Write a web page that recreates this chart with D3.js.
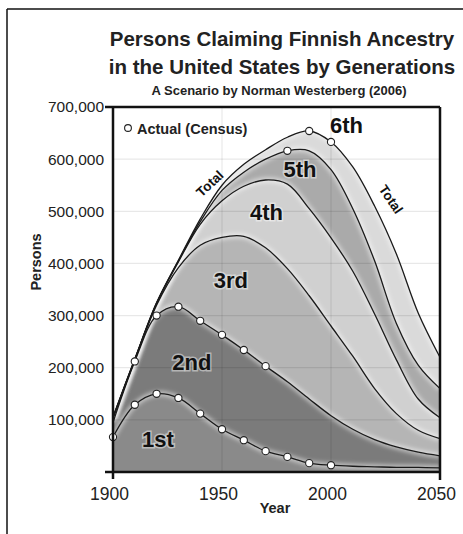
<!DOCTYPE html>
<html>
<head>
<meta charset="utf-8">
<script src="https://cdn.jsdelivr.net/npm/d3@7"></script>
<style>
  body { margin: 0; background: #fff; }
  text { font-family: "Liberation Sans", Arial, sans-serif; }
</style>
</head>
<body>
<svg id="chart" width="463" height="534"></svg>
<script>
// years sampled every decade
const years = [1900,1910,1920,1930,1940,1950,1960,1970,1980,1990,2000,2010,2020,2030,2040,2050];
// persons per generation (thousands)
const gen1 = [67,129,150,142,112,82,61,40,29,17,13,11,10,9,9,8];
const gen2 = [28,83,150,175,178,181,173,163,144,123,95,71,52,39,29,23];
const gen3 = [8,3,20,75,145,187,218,227,217,198,172,140,98,64,42,33];
const gen4 = [1,1,3,11,40,70,96,130,162,167,169,163,143,103,60,40];
const gen5 = [1,0,1,2,5,20,27,40,64,111,131,120,102,70,65,56];
const gen6 = [1,1,1,1,5,10,15,18,26,38,53,80,105,133,100,60];
const genNames = ["1st","2nd","3rd","4th","5th","6th"];
const genFill = ["#8a8a8a","#7b7b7b","#b5b5b5","#d0d0d0","#aaaaaa","#dadada"];

// census points (thousands)
const censusFirst = [[1900,67],[1910,129],[1920,150],[1930,142],[1940,112],[1950,82],[1960,61],[1970,40],[1980,29],[1990,17],[2000,13]];
const censusStock = [[1910,212],[1920,300],[1930,317],[1940,290],[1950,263],[1960,234],[1970,203]];
const censusAncestry = [[1980,616],[1990,654],[2000,633]];

const yTicks = [100000,200000,300000,400000,500000,600000,700000];
const xTicks = [1900,1950,2000,2050];

// label anchors in data space
const genLabels = [
  {t:"1st", year:1920.6, v:48}, {t:"2nd", year:1936.2, v:196}, {t:"3rd", year:1954.1, v:353},
  {t:"4th", year:1970.4, v:483}, {t:"5th", year:1985.8, v:566}, {t:"6th", year:2007.1, v:650}
];

const svg = d3.select("#chart");
const plot = {left: 113, right: 440, top: 107, bottom: 472};

const x = d3.scaleLinear().domain([1900, 2050]).range([plot.left, plot.right]);
const y = d3.scaleLinear().domain([0, 700000]).range([plot.bottom, plot.top]);

// outer frame
svg.append("line").attr("x1", 7).attr("x2", 7).attr("y1", 9).attr("y2", 534).attr("stroke", "#111").attr("stroke-width", 1.5);
svg.append("line").attr("x1", 7).attr("x2", 463).attr("y1", 9).attr("y2", 9).attr("stroke", "#111").attr("stroke-width", 1.5);

// titles
svg.append("text").attr("x", 282).attr("y", 46).attr("text-anchor", "middle")
  .attr("font-size", 20.5).attr("font-weight", "bold").attr("fill", "#222").text("Persons Claiming Finnish Ancestry");
svg.append("text").attr("x", 282).attr("y", 74).attr("text-anchor", "middle")
  .attr("font-size", 20.5).attr("font-weight", "bold").attr("fill", "#222").text("in the United States by Generations");
svg.append("text").attr("x", 279).attr("y", 95).attr("text-anchor", "middle")
  .attr("font-size", 13).attr("font-weight", "bold").attr("fill", "#222").text("A Scenario by Norman Westerberg (2006)");

// stacked data
const table = years.map((yr, i) => ({
  year: yr, g0: gen1[i]*1000, g1: gen2[i]*1000, g2: gen3[i]*1000,
  g3: gen4[i]*1000, g4: gen5[i]*1000, g5: gen6[i]*1000
}));
const keys = ["g0","g1","g2","g3","g4","g5"];
const series = d3.stack().keys(keys)(table);

const curve = d3.curveCatmullRom.alpha(0.5);
const area = d3.area().curve(curve)
  .x(d => x(d.data.year)).y0(d => y(d[0])).y1(d => y(d[1]));
const line = d3.line().curve(curve)
  .x(d => x(d.data.year)).y(d => y(d[1]));

const defs = svg.append("defs");
defs.append("clipPath").attr("id", "clip").append("rect")
  .attr("x", plot.left).attr("y", plot.top).attr("width", plot.right - plot.left).attr("height", plot.bottom - plot.top);
defs.append("filter").attr("id", "glow").attr("x", "-10%").attr("y", "-10%").attr("width", "120%").attr("height", "120%")
  .append("feGaussianBlur").attr("stdDeviation", 2);

const g = svg.append("g").attr("clip-path", "url(#clip)");

g.selectAll(".area").data(series).join("path")
  .attr("class", "area")
  .attr("fill", (d, i) => genFill[i])
  .attr("d", area);

// soft light halo along boundaries
g.selectAll(".halo").data(series).join("path")
  .attr("class", "halo")
  .attr("fill", "none").attr("stroke", "#fff").attr("stroke-opacity", 0.55).attr("stroke-width", 5)
  .attr("filter", "url(#glow)")
  .attr("d", line);

// gridlines over the areas
g.selectAll(".hgrid").data(yTicks.slice(0, -1)).join("line")
  .attr("class", "hgrid")
  .attr("x1", plot.left).attr("x2", plot.right)
  .attr("y1", d => y(d)).attr("y2", d => y(d))
  .attr("stroke", "#000").attr("stroke-opacity", 0.09).attr("stroke-width", 1.2);
g.selectAll(".vgrid").data([1950, 2000]).join("line")
  .attr("class", "vgrid")
  .attr("x1", d => x(d)).attr("x2", d => x(d))
  .attr("y1", plot.top).attr("y2", plot.bottom)
  .attr("stroke", "#000").attr("stroke-opacity", 0.09).attr("stroke-width", 1.2);

g.selectAll(".bound").data(series).join("path")
  .attr("class", "bound")
  .attr("fill", "none").attr("stroke", "#1a1a1a").attr("stroke-width", 1.3)
  .attr("d", line);

// census points
const pts = censusFirst.concat(censusStock, censusAncestry);
svg.append("g").selectAll("circle").data(pts).join("circle")
  .attr("cx", d => x(d[0])).attr("cy", d => y(d[1]*1000)).attr("r", 3.6)
  .attr("fill", "#fff").attr("stroke", "#222").attr("stroke-width", 1.1);

// axes
const yAxis = d3.axisLeft(y).tickValues(yTicks).tickSize(0).tickPadding(9).tickFormat(d3.format(","));
svg.append("g").attr("class", "axis y")
  .attr("transform", `translate(${plot.left},0)`)
  .call(yAxis)
  .call(s => s.select(".domain").remove())
  .selectAll("text").attr("font-size", 15.5).attr("fill", "#222").attr("font-family", "Liberation Sans, Arial, sans-serif");

const xAxis = d3.axisBottom(x).tickValues(xTicks).tickSize(0).tickPadding(16).tickFormat(d3.format("d"));
svg.append("g").attr("class", "axis x")
  .attr("transform", `translate(0,${plot.bottom})`)
  .call(xAxis)
  .call(s => s.select(".domain").remove())
  .selectAll("text").attr("font-size", 17.5).attr("fill", "#222").attr("dx", -4)
  .attr("font-family", "Liberation Sans, Arial, sans-serif");

// frame lines of the plot
const frame = svg.append("g").attr("stroke", "#111").attr("stroke-width", 2.5);
frame.append("line").attr("x1", plot.left).attr("x2", plot.left).attr("y1", plot.top).attr("y2", plot.bottom + 7);
frame.append("line").attr("x1", plot.right).attr("x2", plot.right).attr("y1", plot.top).attr("y2", plot.bottom + 8);
frame.append("line").attr("x1", plot.left - 8).attr("x2", plot.right).attr("y1", plot.top).attr("y2", plot.top);
frame.append("line").attr("x1", plot.left - 8).attr("x2", plot.right).attr("y1", plot.bottom).attr("y2", plot.bottom);

// axis titles
svg.append("text").attr("x", 275).attr("y", 513).attr("text-anchor", "middle")
  .attr("font-size", 14.5).attr("font-weight", "bold").attr("fill", "#222").text("Year");
svg.append("text").attr("transform", "translate(41,262)rotate(-90)").attr("text-anchor", "middle")
  .attr("font-size", 14.5).attr("font-weight", "bold").attr("fill", "#222").text("Persons");

// legend
svg.append("circle").attr("cx", 128).attr("cy", 128).attr("r", 3.4)
  .attr("fill", "#fff").attr("stroke", "#222").attr("stroke-width", 1.1);
svg.append("text").attr("x", 137).attr("y", 133.5)
  .attr("font-size", 14.5).attr("font-weight", "bold").attr("fill", "#222").text("Actual (Census)");

// generation labels
svg.append("g").selectAll("text").data(genLabels).join("text")
  .attr("x", d => x(d.year)).attr("y", d => y(d.v*1000))
  .attr("text-anchor", "middle").attr("font-size", 22).attr("font-weight", "bold")
  .attr("fill", "#111").attr("stroke", "#fff").attr("stroke-opacity", 0.45).attr("stroke-width", 3)
  .attr("paint-order", "stroke")
  .text(d => d.t);

// "Total" labels along the outer curve
svg.append("text").attr("transform", "translate(213,187)rotate(-43)").attr("text-anchor", "middle")
  .attr("font-size", 13.5).attr("font-weight", "bold").attr("fill", "#111").text("Total");
svg.append("text").attr("transform", "translate(387,202)rotate(56)").attr("text-anchor", "middle")
  .attr("font-size", 13.5).attr("font-weight", "bold").attr("fill", "#111").text("Total");
</script>
</body>
</html>
